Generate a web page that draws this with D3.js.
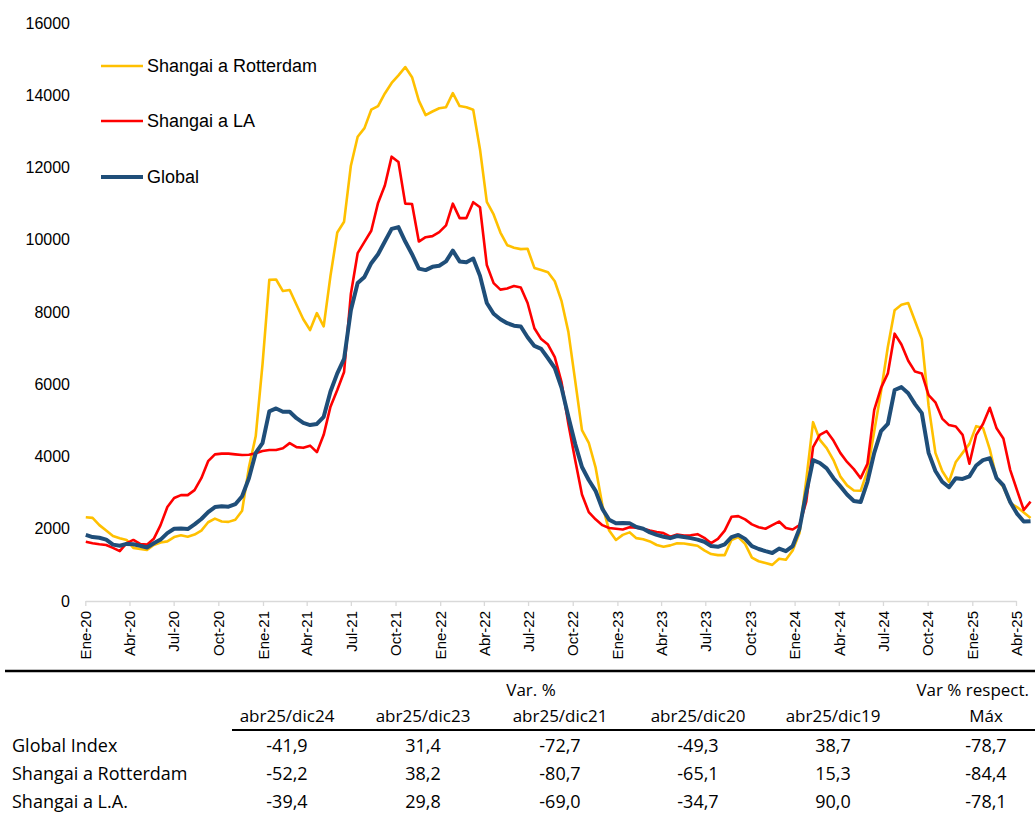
<!DOCTYPE html>
<html>
<head>
<meta charset="utf-8">
<script src="https://cdn.jsdelivr.net/npm/d3@7"></script>
<style>
  body { margin: 0; background: #fff; }
  svg text { font-family: "Liberation Sans", Arial, sans-serif; fill: #000; }
  .tbl text { font-family: "Open Sans", sans-serif; }
</style>
</head>
<body>
<script>
'use strict';

// weekly index, read every second week starting 2 Jan 2020
const firstDate = new Date(2020, 0, 2);
const stepDays = 14;

const rotterdam = [
  2320, 2300, 2100, 1950, 1800, 1740, 1690, 1470, 1440, 1410,
  1550, 1620, 1650, 1770, 1820, 1780, 1840, 1950, 2180, 2280,
  2200, 2190, 2250, 2500, 3700, 4560, 6550, 8890, 8900, 8580,
  8610, 8200, 7800, 7500, 7970, 7600, 9000, 10200, 10500, 12050,
  12850, 13090, 13600, 13700, 14050, 14340, 14550, 14780, 14500, 13850,
  13450, 13550, 13640, 13670, 14060, 13700, 13670, 13600, 12500, 11050,
  10700, 10200, 9850, 9780, 9740, 9750, 9220, 9160, 9100, 8850,
  8300, 7450, 6100, 4730, 4380, 3700, 2650, 1950, 1690, 1830,
  1900, 1740, 1710, 1650, 1550, 1500, 1540, 1600, 1590, 1560,
  1530, 1400, 1300, 1270, 1270, 1690, 1770, 1580, 1200, 1100,
  1050, 1000, 1170, 1140, 1400, 1880, 3350, 4950, 4460, 4230,
  3900, 3450, 3200, 3060, 3050, 3600, 4700, 5800, 7030, 8050,
  8200, 8250, 7750, 7250, 5400, 4100, 3600, 3300, 3850, 4100,
  4350, 4840, 4790, 4200, 3400, 3150, 2710, 2600, 2450, 2300
];

const losAngeles = [
  1640, 1600, 1570, 1550, 1470, 1380, 1600, 1690, 1580, 1560,
  1720, 2100, 2600, 2850, 2930, 2930, 3070, 3400, 3870, 4060,
  4080, 4080, 4060, 4040, 4050, 4090, 4150, 4180, 4180, 4230,
  4370, 4260, 4240, 4300, 4120, 4600, 5380, 5840, 6340, 8500,
  9630, 9940, 10250, 11020, 11500, 12300, 12150, 11000, 10990, 9950,
  10070, 10100, 10210, 10400, 11000, 10600, 10600, 11040, 10900, 9300,
  8800, 8620, 8650, 8720, 8680, 8250, 7550, 7250, 7100, 6750,
  6050, 4900, 3900, 2950, 2460, 2260, 2100, 2020, 2000, 1980,
  2040, 2030, 2000, 1950, 1910, 1880, 1780, 1840, 1810, 1820,
  1850, 1750, 1600, 1720, 1950, 2330, 2350, 2260, 2120, 2040,
  2000, 2100, 2200, 2020, 1980, 2100, 2750, 4260, 4600, 4700,
  4440, 4100, 3850, 3650, 3400, 3800, 5290, 5900, 6300, 7400,
  7100, 6650, 6350, 6300, 5700, 5500, 5050, 4870, 4830, 4600,
  3800, 4600, 4900, 5350, 4780, 4500, 3630, 3070, 2520, 2750
];

const globalIdx = [
  1830, 1770, 1750, 1700, 1560, 1530, 1580, 1570, 1530, 1480,
  1600, 1700, 1880, 2000, 2010, 1990, 2120, 2270, 2460, 2600,
  2620, 2610, 2680, 2900, 3400, 4100, 4370, 5250, 5330, 5240,
  5240, 5060, 4930, 4870, 4900, 5100, 5800, 6300, 6700, 8050,
  8800, 8970, 9350, 9600, 9950, 10300, 10350, 9950, 9600, 9200,
  9160, 9250, 9280, 9400, 9700, 9400, 9380, 9480, 9000, 8250,
  7950, 7800, 7690, 7620, 7600, 7300, 7060, 6980, 6720, 6450,
  5900, 5100, 4350, 3710, 3350, 3050, 2550, 2250, 2150, 2160,
  2150, 2050, 2000, 1900, 1830, 1780, 1740, 1800, 1770, 1740,
  1700, 1640, 1520, 1500, 1570, 1770, 1830, 1720, 1520, 1440,
  1380, 1330, 1450, 1380, 1520, 2000, 3000, 3900, 3820, 3670,
  3400, 3180, 2950, 2770, 2740, 3300, 4100, 4700, 4900, 5840,
  5920, 5750, 5450, 5200, 4100, 3600, 3300, 3150, 3400, 3380,
  3450, 3750, 3900, 3950, 3400, 3200, 2740, 2420, 2200, 2210
];

const seriesNames = ['Shangai a Rotterdam', 'Shangai a LA', 'Global'];
const seriesColors = ['#FFC000', '#FF0000', '#1F4E79'];
const seriesWidths = [2.6, 2.6, 4];

const yTicks = [0, 2000, 4000, 6000, 8000, 10000, 12000, 14000, 16000];
const xTickLabels = ['Ene-20', 'Abr-20', 'Jul-20', 'Oct-20', 'Ene-21', 'Abr-21', 'Jul-21', 'Oct-21',
  'Ene-22', 'Abr-22', 'Jul-22', 'Oct-22', 'Ene-23', 'Abr-23', 'Jul-23', 'Oct-23',
  'Ene-24', 'Abr-24', 'Jul-24', 'Oct-24', 'Ene-25', 'Abr-25'];

// summary table
const colHeaders = ['abr25/dic24', 'abr25/dic23', 'abr25/dic21', 'abr25/dic20', 'abr25/dic19', 'Máx'];
const rowNames = ['Global Index', 'Shangai a Rotterdam', 'Shangai a L.A.'];
const globalRow = ['-41,9', '31,4', '-72,7', '-49,3', '38,7', '-78,7'];
const rotterdamRow = ['-52,2', '38,2', '-80,7', '-65,1', '15,3', '-84,4'];
const laRow = ['-39,4', '29,8', '-69,0', '-34,7', '90,0', '-78,1'];

(function() {
  let svg = d3.select('body').append('svg')
    .attr('width', 1035)
    .attr('height', 814);

  let dates = globalIdx.map((v, i) => d3.timeDay.offset(firstDate, i * stepDays));
  let tickDates = d3.timeMonth.every(3).range(new Date(2020, 0, 1), new Date(2025, 3, 2));

  let x = d3.scaleTime()
    .domain([new Date(2020, 0, 1), new Date(2025, 3, 1)])
    .range([85.3, 1016]);
  let y = d3.scaleLinear()
    .domain([0, 16000])
    .range([601, 23]);

  // y axis, labels only
  let yAxis = svg.append('g')
    .attr('transform', 'translate(85,0)')
    .call(d3.axisLeft(y).tickValues(yTicks).tickSize(0).tickPadding(15).tickFormat(d3.format('d')));
  yAxis.select('.domain').remove();
  yAxis.selectAll('text').style('font-size', '16px').style('font-family', '"Liberation Sans", Arial, sans-serif');

  // x axis
  let xAxis = svg.append('g')
    .attr('transform', 'translate(0,601)')
    .call(d3.axisBottom(x).tickValues(tickDates).tickSize(5).tickSizeOuter(0)
      .tickFormat((d, i) => xTickLabels[i]));
  xAxis.select('.domain').attr('stroke', '#d9d9d9').attr('stroke-width', 1.3);
  xAxis.selectAll('line').attr('stroke', '#d9d9d9').attr('stroke-width', 1.3);
  xAxis.selectAll('text')
    .attr('transform', 'rotate(-90)')
    .attr('text-anchor', 'end')
    .attr('x', -10)
    .attr('y', 0)
    .attr('dy', '0.35em')
    .style('font-size', '15px')
    .style('font-family', '"Liberation Sans", Arial, sans-serif');

  // lines
  let line = d3.line()
    .x((d, i) => x(dates[i]))
    .y(d => y(d));

  [rotterdam, losAngeles, globalIdx].forEach((s, k) => {
    svg.append('path')
      .datum(s)
      .attr('fill', 'none')
      .attr('stroke', seriesColors[k])
      .attr('stroke-width', seriesWidths[k])
      .attr('stroke-linejoin', 'round')
      .attr('d', line);
  });

  // legend
  let legendY = [66, 121, 177];
  seriesNames.forEach((name, k) => {
    svg.append('line')
      .attr('x1', 101).attr('x2', 143)
      .attr('y1', legendY[k]).attr('y2', legendY[k])
      .attr('stroke', seriesColors[k])
      .attr('stroke-width', seriesWidths[k]);
    svg.append('text')
      .attr('x', 147)
      .attr('y', legendY[k])
      .attr('dy', '0.35em')
      .style('font-size', '18px')
      .text(name);
  });

  // table
  let tbl = svg.append('g').attr('class', 'tbl');
  let colX = [287, 423, 560, 698, 833, 986];
  let rowY = [752, 780, 808];

  tbl.append('line')
    .attr('x1', 5).attr('x2', 1035)
    .attr('y1', 671).attr('y2', 671)
    .attr('stroke', '#000').attr('stroke-width', 2.5);
  tbl.append('line')
    .attr('x1', 232).attr('x2', 1035)
    .attr('y1', 730).attr('y2', 730)
    .attr('stroke', '#000').attr('stroke-width', 2);

  tbl.append('text')
    .attr('x', 531).attr('y', 696)
    .attr('text-anchor', 'middle')
    .style('font-size', '17px')
    .text('Var. %');
  tbl.append('text')
    .attr('x', 1029).attr('y', 696)
    .attr('text-anchor', 'end')
    .style('font-size', '17px')
    .text('Var % respect.');

  colHeaders.forEach((h, j) => {
    tbl.append('text')
      .attr('x', colX[j]).attr('y', 722)
      .attr('text-anchor', 'middle')
      .style('font-size', '17px')
      .text(h);
  });

  [globalRow, rotterdamRow, laRow].forEach((row, r) => {
    tbl.append('text')
      .attr('x', 12).attr('y', rowY[r])
      .style('font-size', '18px')
      .text(rowNames[r]);
    row.forEach((v, j) => {
      tbl.append('text')
        .attr('x', colX[j]).attr('y', rowY[r])
        .attr('text-anchor', 'middle')
        .style('font-size', '18px')
        .text(v);
    });
  });
})();
</script>
</body>
</html>
